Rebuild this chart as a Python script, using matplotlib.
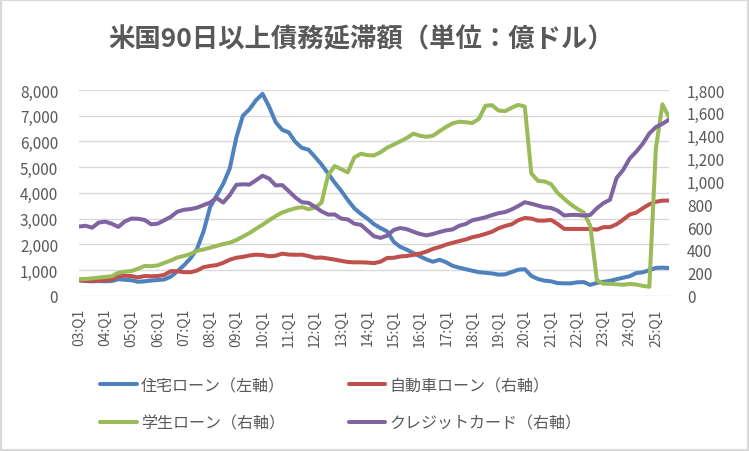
import matplotlib
matplotlib.use('Agg')
import matplotlib.pyplot as plt
from matplotlib.ticker import FuncFormatter, FixedLocator
from matplotlib.patches import Rectangle

plt.rcParams['font.family'] = ['Noto Sans CJK JP', 'DejaVu Sans']

# ---------------- data ----------------
years = list(range(2003, 2026))
quarters = [f"{y % 100:02d}:Q{q}" for y in years for q in range(1, 5)][:91]  # 03:Q1 .. 25:Q3

mortgage = [610, 570, 560, 570, 560, 570, 640, 620, 600, 540, 560, 590, 610, 630, 740, 950,
            1180, 1450, 1820, 2500, 3450, 3900, 4350, 4950, 6150, 7000, 7250, 7600, 7850, 7350,
            6750, 6450, 6350, 5980, 5750, 5680, 5400, 5100, 4750, 4400, 4080, 3720, 3400, 3180,
            3000, 2780, 2630, 2500, 2100, 1900, 1790, 1660, 1530, 1410, 1320, 1400, 1300, 1160,
            1090, 1030, 970, 915, 890, 865, 820, 830, 920, 1010, 1030, 770, 650, 585, 560, 490,
            480, 480, 520, 530, 420, 500, 540, 580, 640, 700, 755, 880, 910, 990, 1080, 1090, 1075]

auto = [135, 130, 130, 132, 135, 142, 170, 175, 172, 160, 172, 170, 172, 182, 215, 214,
        206, 205, 220, 250, 260, 268, 288, 315, 332, 340, 352, 359, 356, 345, 350, 368,
        360, 358, 359, 347, 332, 334, 325, 316, 305, 295, 292, 292, 290, 285, 298, 330,
        332, 343, 348, 357, 369, 386, 410, 426, 447, 463, 478, 492, 512, 524, 541, 560,
        590, 610, 625, 660, 680, 675, 657, 657, 663, 628, 585, 584, 584, 584, 584, 578,
        600, 600, 625, 665, 710, 727, 765, 800, 822, 832, 833]

student = [145, 146, 152, 158, 164, 170, 200, 210, 216, 236, 260, 258, 265, 287, 308, 334,
           348, 365, 392, 405, 420, 436, 452, 464, 487, 517, 548, 586, 621, 660, 697, 728,
           748, 765, 775, 757, 770, 815, 1055, 1135, 1107, 1080, 1210, 1242, 1230, 1227, 1255, 1295,
           1322, 1350, 1380, 1418, 1400, 1390, 1400, 1440, 1477, 1509, 1522, 1518, 1511, 1548, 1662, 1667,
           1620, 1615, 1645, 1670, 1655, 1070, 1005, 1000, 977, 900, 848, 800, 760, 728, 610, 135,
           105, 104, 100, 96, 102, 98, 86, 78, 1290, 1675, 1560]

card = [605, 612, 595, 640, 648, 630, 602, 650, 675, 673, 663, 625, 630, 660, 690, 735,
        752, 758, 770, 793, 815, 855, 815, 880, 970, 975, 972, 1010, 1050, 1025, 965, 968,
        915, 860, 818, 812, 778, 738, 710, 711, 675, 667, 630, 620, 570, 520, 506, 525,
        575, 592, 582, 560, 540, 528, 540, 557, 572, 580, 612, 628, 660, 672, 686, 705,
        722, 732, 755, 785, 818, 805, 789, 774, 768, 745, 702, 707, 707, 701, 707, 765,
        810, 840, 1030, 1100, 1200, 1260, 1330, 1420, 1475, 1505, 1540]

series_labels = ["住宅ローン（左軸）", "自動車ローン（右軸）", "学生ローン（右軸）", "クレジットカード（右軸）"]
title = "米国90日以上債務延滞額（単位：億ドル）"
left_ticks = [0, 1000, 2000, 3000, 4000, 5000, 6000, 7000, 8000]
right_ticks = [0, 200, 400, 600, 800, 1000, 1200, 1400, 1600, 1800]

# ---------------- style ----------------
TXT = '#595959'
GRID = '#d9d9d9'
C_BLUE, C_RED, C_GREEN, C_PURPLE = '#4F81BD', '#C0504D', '#9BBB59', '#8064A2'
LW = 2.9

W, H = 749, 452
fig = plt.figure(figsize=(W / 100, H / 100), dpi=100)
fig.patch.set_facecolor('white')

ax = fig.add_axes([79 / W, 1 - 296.7 / H, 590 / W, 205.7 / H])
ax2 = ax.twinx()

x = list(range(len(quarters)))
kw = dict(lw=LW, solid_capstyle='round', solid_joinstyle='round')
l1, = ax.plot(x, mortgage, color=C_BLUE, label=series_labels[0], **kw)
l2, = ax2.plot(x, auto, color=C_RED, label=series_labels[1], **kw)
l3, = ax2.plot(x, student, color=C_GREEN, label=series_labels[2], **kw)
l4, = ax2.plot(x, card, color=C_PURPLE, label=series_labels[3], **kw)

ax.set_xlim(0, len(quarters) - 1)
ax.set_ylim(0, 8000)
ax2.set_ylim(0, 1800)
ax.yaxis.set_major_locator(FixedLocator(left_ticks))
ax2.yaxis.set_major_locator(FixedLocator(right_ticks))
fmt = FuncFormatter(lambda v, p: f"{int(v):,}")
ax.yaxis.set_major_formatter(fmt)
ax2.yaxis.set_major_formatter(fmt)

tick_pos = x[::4]
ax.set_xticks(tick_pos)
ax.set_xticklabels([quarters[i] for i in tick_pos], rotation=90, fontsize=10, color=TXT)

ax.grid(axis='y', color=GRID, lw=1)
ax.set_axisbelow(True)
for a in (ax, ax2):
    for s in a.spines.values():
        s.set_visible(False)
ax.tick_params(axis='both', length=0, colors=TXT)
ax.tick_params(axis='y', labelsize=11, pad=15)
ax.tick_params(axis='x', pad=9)
ax2.tick_params(axis='y', length=0, colors=TXT, labelsize=11, pad=13)

fig.text(361.5 / W, 1 - 40 / H, title, ha='center', va='center',
         fontsize=19, fontweight='bold', color=TXT)

leg = fig.legend([l1, l3, l2, l4], [series_labels[0], series_labels[2], series_labels[1], series_labels[3]],
                 ncol=2, loc='upper left', bbox_to_anchor=(100 / W, 1 - 378 / H),
                 frameon=False, fontsize=11.5, handlelength=2.3, handletextpad=0.25,
                 columnspacing=4.0, labelspacing=1.3, borderpad=0, borderaxespad=0)
for t in leg.get_texts():
    t.set_color(TXT)

fig.patches.append(Rectangle((0, 0), 1, 1, transform=fig.transFigure, fill=False,
                             edgecolor=GRID, lw=3, zorder=10))

fig.savefig('out.png', dpi=100)
